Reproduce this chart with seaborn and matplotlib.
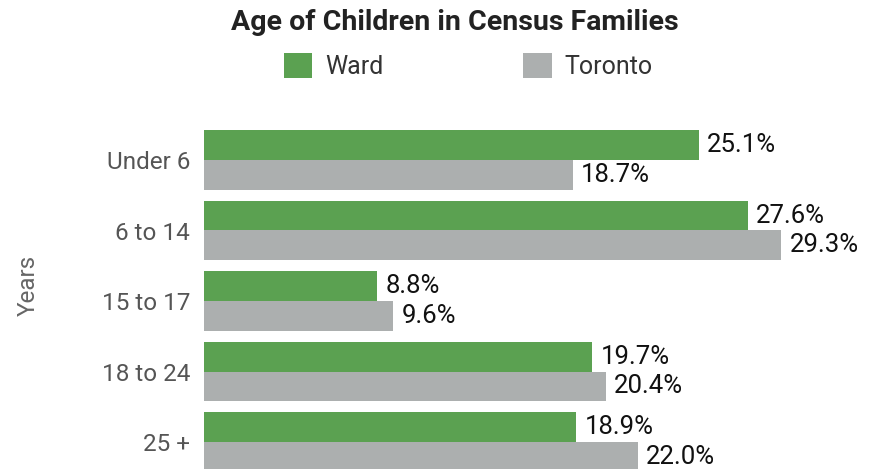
import pandas as pd
import seaborn as sns
import matplotlib.pyplot as plt
from matplotlib.patches import Patch

# Data
age_groups = ['Under 6', '6 to 14', '15 to 17', '18 to 24', '25 +']
ward = [25.1, 27.6, 8.8, 19.7, 18.9]
toronto = [18.7, 29.3, 9.6, 20.4, 22.0]
series = ['Ward', 'Toronto']
colors = ['#5ba151', '#acafaf']

df = pd.DataFrame({
    'Age': age_groups * 2,
    'Share': ward + toronto,
    'Area': ['Ward'] * len(age_groups) + ['Toronto'] * len(age_groups),
})

sns.set_style('white')
plt.rcParams['font.family'] = ['Roboto', 'DejaVu Sans']

fig = plt.figure(figsize=(8.81, 4.69), dpi=100)
# axes placed in pixel terms: left edge 204px, category pitch ~70.5px
W, H = 881, 469
ax = fig.add_axes([204 / W, (H - 477.25) / H, 670 / W, 352.5 / H])

sns.barplot(data=df, x='Share', y='Age', hue='Area', order=age_groups,
            hue_order=series, palette=colors, width=0.85, saturation=1,
            orient='h', ax=ax, legend=False, linewidth=0)

for c in ax.containers:
    ax.bar_label(c, fmt='%.1f%%', padding=6, fontsize=18.5, color='#111111')

ax.set_xlim(0, 34)
ax.set_ylim(4.5, -0.5)
ax.set_xticks([])
ax.set_xlabel('')
ax.set_ylabel('Years', fontsize=17.5, color='#666666')
ax.yaxis.set_label_coords(-0.245, 0.545)
ax.tick_params(axis='y', length=0, labelsize=17.5, labelcolor='#555555', pad=10)
sns.despine(ax=ax, left=True, bottom=True)

fig.text(455 / W, 1 - 22 / H, 'Age of Children in Census Families',
         ha='center', va='center', fontsize=20.5, fontweight='bold', color='#222222')

handles = [Patch(facecolor=col, edgecolor='none') for col in colors]
fig.legend(handles, series, loc='center', bbox_to_anchor=(468 / W, 1 - 66 / H),
           ncol=2, frameon=False, fontsize=18, handlelength=1.15, handleheight=1.15,
           columnspacing=5.6, handletextpad=0.5, labelcolor='#333333')

fig.savefig('out.png', dpi=100)
